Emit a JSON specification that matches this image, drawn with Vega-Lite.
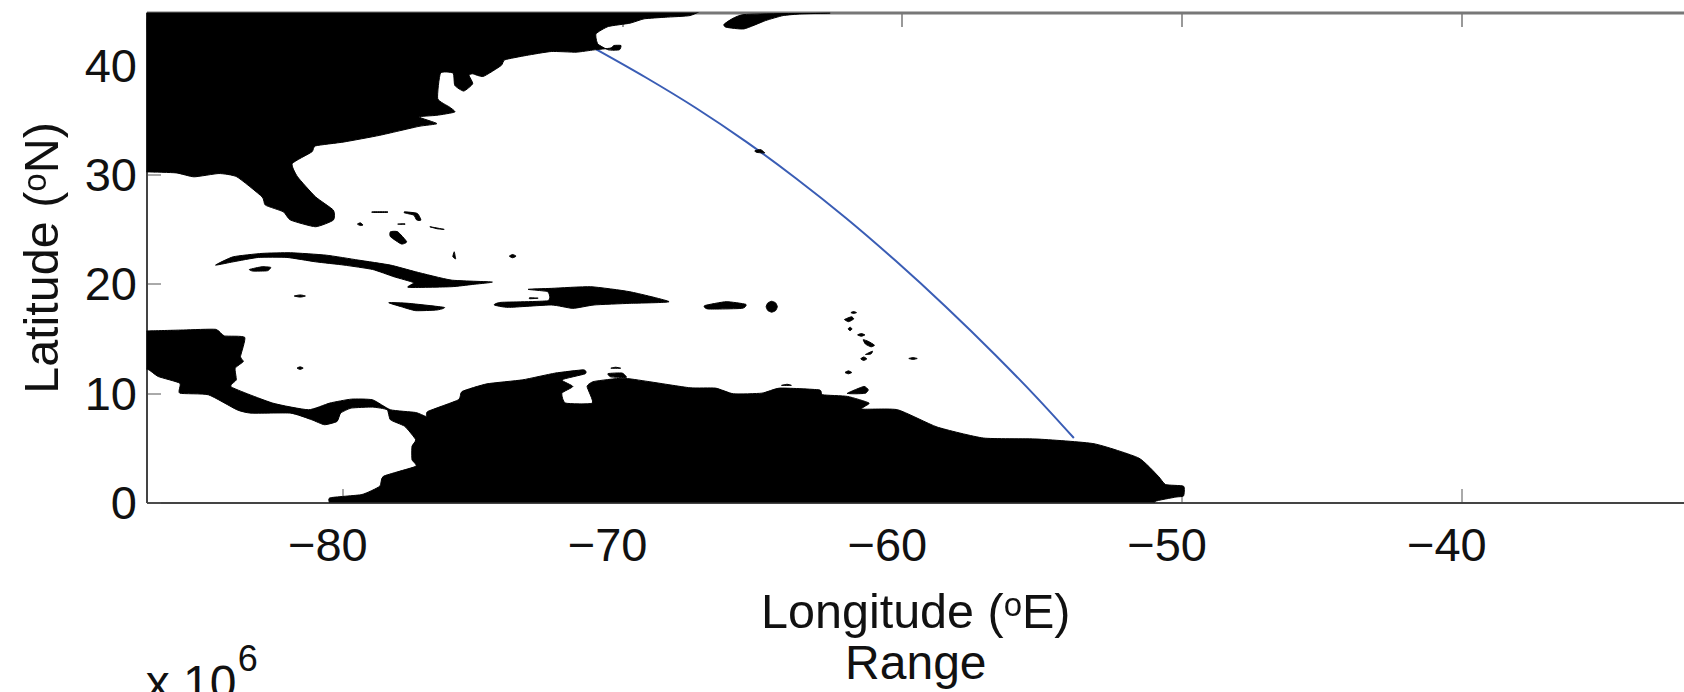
{"$schema":"https://vega.github.io/schema/vega-lite/v6.json","autosize":{"type":"none"},"padding":{"left":146.5,"top":12.5,"right":0,"bottom":189.5},"width":1537.5,"height":490,"background":"white","view":{"stroke":null},"config":{"font":"Liberation Sans","axis":{"grid":false,"labelFont":"Liberation Sans","titleFont":"Liberation Sans","labelFontSize":47,"titleFontSize":48.5,"labelColor":"#111","titleColor":"#111","titleFontWeight":"normal","tickSize":-14,"tickColor":"#555","domainColor":"#444","domainWidth":2}},"datasets":{"route":[{"lon":-70.94,"lat":41.5},{"lon":-69.15,"lat":38.9},{"lon":-67.36,"lat":36.11},{"lon":-65.57,"lat":33.03},{"lon":-63.79,"lat":29.68},{"lon":-62,"lat":26.04},{"lon":-60.22,"lat":22.12},{"lon":-58.43,"lat":17.92},{"lon":-56.64,"lat":13.46},{"lon":-55.2,"lat":9.67},{"lon":-53.85,"lat":5.9}],"notesCenter":[{"lon":-59.5,"lat":-16.2,"label":"Range","size":48}],"notesLeft":[{"lon":-87.03,"lat":-18,"label":"x 10","size":48},{"lon":-83.74,"lat":-15.4,"label":"6","size":36}],"land":[
{"shape":"na","lon":-87,"lat":44.0},{"shape":"na","lon":-87,"lat":45.5},{"shape":"na","lon":-86,"lat":45.5},{"shape":"na","lon":-68.2,"lat":45.5},{"shape":"na","lon":-67.1,"lat":45.2},{"shape":"na","lon":-67.57,"lat":44.57},{"shape":"na","lon":-68.44,"lat":44.42},{"shape":"na","lon":-69.21,"lat":44.27},{"shape":"na","lon":-69.72,"lat":43.87},{"shape":"na","lon":-70.49,"lat":43.57},{"shape":"na","lon":-70.93,"lat":42.9},{"shape":"na","lon":-70.87,"lat":41.98},{"shape":"na","lon":-70.49,"lat":41.43},{"shape":"na","lon":-70.1,"lat":41.43},{"shape":"na","lon":-70.04,"lat":41.83},{"shape":"na","lon":-70.29,"lat":41.83},{"shape":"na","lon":-70.42,"lat":41.59},{"shape":"na","lon":-71,"lat":41.43},{"shape":"na","lon":-71.64,"lat":41.22},{"shape":"na","lon":-72.53,"lat":41.28},{"shape":"na","lon":-73.42,"lat":40.92},{"shape":"na","lon":-74.19,"lat":40.52},{"shape":"na","lon":-74.32,"lat":40},{"shape":"na","lon":-74.96,"lat":39},{"shape":"na","lon":-75.34,"lat":39.24},{"shape":"na","lon":-75.47,"lat":39.09},{"shape":"na","lon":-75.34,"lat":38.33},{"shape":"na","lon":-75.66,"lat":37.66},{"shape":"na","lon":-75.98,"lat":38.18},{"shape":"na","lon":-76.04,"lat":39.3},{"shape":"na","lon":-76.49,"lat":39.3},{"shape":"na","lon":-76.59,"lat":36.96},{"shape":"na","lon":-76.17,"lat":36.2},{"shape":"na","lon":-75.98,"lat":35.74},{"shape":"na","lon":-76.62,"lat":35.44},{"shape":"na","lon":-77.26,"lat":35.29},{"shape":"na","lon":-76.62,"lat":34.68},{"shape":"na","lon":-77.26,"lat":34.43},{"shape":"na","lon":-78.66,"lat":33.61},{"shape":"na","lon":-79.94,"lat":33},{"shape":"na","lon":-80.96,"lat":32.64},{"shape":"na","lon":-81.09,"lat":32.09},{"shape":"na","lon":-81.79,"lat":31.02},{"shape":"na","lon":-81.6,"lat":29.81},{"shape":"na","lon":-80.96,"lat":27.98},{"shape":"na","lon":-80.32,"lat":26.76},{"shape":"na","lon":-80.32,"lat":25.85},{"shape":"na","lon":-80.96,"lat":25.24},{"shape":"na","lon":-81.85,"lat":25.85},{"shape":"na","lon":-82.11,"lat":26.61},{"shape":"na","lon":-82.75,"lat":27.22},{"shape":"na","lon":-82.87,"lat":27.98},{"shape":"na","lon":-83.77,"lat":29.81},{"shape":"na","lon":-84.41,"lat":30.11},{"shape":"na","lon":-85.3,"lat":29.81},{"shape":"na","lon":-85.94,"lat":30.17},{"shape":"na","lon":-86.96,"lat":30.26},{"shape":"na","lon":-87.5,"lat":30.26},{"shape":"na","lon":-87.5,"lat":31},
{"shape":"ns","lon":-66.34,"lat":43.81},{"shape":"ns","lon":-65.64,"lat":44.66},{"shape":"ns","lon":-62.58,"lat":44.8},{"shape":"ns","lon":-63.6,"lat":44.72},{"shape":"ns","lon":-64.24,"lat":44.57},{"shape":"ns","lon":-64.87,"lat":44.11},{"shape":"ns","lon":-65.64,"lat":43.35},{"shape":"ns","lon":-66.28,"lat":43.5},
{"shape":"b1","lon":-78.92,"lat":26.61},{"shape":"b1","lon":-78.4,"lat":26.61},{"shape":"b1","lon":-78.4,"lat":26.55},{"shape":"b1","lon":-78.92,"lat":26.55},
{"shape":"b2","lon":-77.77,"lat":26.61},{"shape":"b2","lon":-77.32,"lat":26.46},{"shape":"b2","lon":-77.19,"lat":25.85},{"shape":"b2","lon":-77.34,"lat":25.85},{"shape":"b2","lon":-77.45,"lat":26.31},{"shape":"b2","lon":-77.77,"lat":26.5},
{"shape":"b3","lon":-79.46,"lat":25.48},{"shape":"b3","lon":-79.36,"lat":25.6},{"shape":"b3","lon":-79.26,"lat":25.4},{"shape":"b3","lon":-79.36,"lat":25.35},
{"shape":"b4","lon":-78.02,"lat":25.48},{"shape":"b4","lon":-77.77,"lat":25.52},{"shape":"b4","lon":-77.77,"lat":25.45},
{"shape":"b5","lon":-76.87,"lat":25.24},{"shape":"b5","lon":-76.36,"lat":25},{"shape":"b5","lon":-76.6,"lat":25.05},
{"shape":"andros","lon":-78.28,"lat":24.78},{"shape":"andros","lon":-78.02,"lat":24.78},{"shape":"andros","lon":-77.7,"lat":23.87},{"shape":"andros","lon":-77.89,"lat":23.66},{"shape":"andros","lon":-78.28,"lat":24.33},
{"shape":"b7","lon":-76,"lat":22.95},{"shape":"b7","lon":-76.05,"lat":22.5},{"shape":"b7","lon":-75.95,"lat":22.3},{"shape":"b7","lon":-75.97,"lat":22.6},
{"shape":"b8","lon":-74.03,"lat":22.55},{"shape":"b8","lon":-73.91,"lat":22.7},{"shape":"b8","lon":-73.79,"lat":22.55},{"shape":"b8","lon":-73.91,"lat":22.4},
{"shape":"cuba","lon":-84.53,"lat":21.73},{"shape":"cuba","lon":-83.9,"lat":22.49},{"shape":"cuba","lon":-82.87,"lat":22.8},{"shape":"cuba","lon":-81.85,"lat":22.86},{"shape":"cuba","lon":-80.58,"lat":22.64},{"shape":"cuba","lon":-79.43,"lat":22.19},{"shape":"cuba","lon":-78.28,"lat":21.73},{"shape":"cuba","lon":-77.38,"lat":21.12},{"shape":"cuba","lon":-76.11,"lat":20.36},{"shape":"cuba","lon":-74.64,"lat":20.18},{"shape":"cuba","lon":-75.34,"lat":19.96},{"shape":"cuba","lon":-76.11,"lat":19.75},{"shape":"cuba","lon":-77.64,"lat":19.69},{"shape":"cuba","lon":-77.45,"lat":20.12},{"shape":"cuba","lon":-78.15,"lat":20.66},{"shape":"cuba","lon":-78.92,"lat":21.33},{"shape":"cuba","lon":-79.94,"lat":21.73},{"shape":"cuba","lon":-80.96,"lat":22.03},{"shape":"cuba","lon":-81.98,"lat":22.43},{"shape":"cuba","lon":-83,"lat":22.43},{"shape":"cuba","lon":-83.9,"lat":22.03},
{"shape":"youth","lon":-83.32,"lat":21.33},{"shape":"youth","lon":-82.87,"lat":21.58},{"shape":"youth","lon":-82.56,"lat":21.52},{"shape":"youth","lon":-82.68,"lat":21.21},{"shape":"youth","lon":-83.19,"lat":21.18},
{"shape":"cayman","lon":-81.72,"lat":18.9},{"shape":"cayman","lon":-81.5,"lat":19},{"shape":"cayman","lon":-81.32,"lat":18.9},{"shape":"cayman","lon":-81.5,"lat":18.8},
{"shape":"jamaica","lon":-78.34,"lat":18.29},{"shape":"jamaica","lon":-77.64,"lat":18.23},{"shape":"jamaica","lon":-76.36,"lat":17.86},{"shape":"jamaica","lon":-76.62,"lat":17.62},{"shape":"jamaica","lon":-77.38,"lat":17.56},{"shape":"jamaica","lon":-77.89,"lat":17.92},
{"shape":"hisp","lon":-74.57,"lat":18.08},{"shape":"hisp","lon":-74.32,"lat":18.32},{"shape":"hisp","lon":-72.66,"lat":18.47},{"shape":"hisp","lon":-72.66,"lat":19.29},{"shape":"hisp","lon":-73.36,"lat":19.51},{"shape":"hisp","lon":-72.53,"lat":19.6},{"shape":"hisp","lon":-71.12,"lat":19.75},{"shape":"hisp","lon":-69.72,"lat":19.29},{"shape":"hisp","lon":-68.32,"lat":18.38},{"shape":"hisp","lon":-69.72,"lat":18.23},{"shape":"hisp","lon":-71,"lat":18.08},{"shape":"hisp","lon":-71.76,"lat":17.77},{"shape":"hisp","lon":-72.53,"lat":18.08},{"shape":"hisp","lon":-74.06,"lat":17.86},
{"shape":"tortue","lon":-73.3,"lat":18.75},{"shape":"tortue","lon":-73,"lat":18.7},{"shape":"tortue","lon":-73.3,"lat":18.65},
{"shape":"pr","lon":-67.05,"lat":18.02},{"shape":"pr","lon":-66.28,"lat":18.38},{"shape":"pr","lon":-65.58,"lat":18.14},{"shape":"pr","lon":-65.71,"lat":17.77},{"shape":"pr","lon":-66.92,"lat":17.71},
{"shape":"vi","lon":-64.85,"lat":17.92},{"shape":"vi","lon":-64.79,"lat":18.27},{"shape":"vi","lon":-64.65,"lat":18.42},{"shape":"vi","lon":-64.51,"lat":18.27},{"shape":"vi","lon":-64.45,"lat":17.92},{"shape":"vi","lon":-64.51,"lat":17.57},{"shape":"vi","lon":-64.65,"lat":17.42},{"shape":"vi","lon":-64.79,"lat":17.57},
{"shape":"la1","lon":-61.82,"lat":17.38},{"shape":"la1","lon":-61.72,"lat":17.48},{"shape":"la1","lon":-61.62,"lat":17.38},{"shape":"la1","lon":-61.72,"lat":17.3},
{"shape":"la2","lon":-62.05,"lat":16.75},{"shape":"la2","lon":-61.8,"lat":17},{"shape":"la2","lon":-61.72,"lat":16.8},{"shape":"la2","lon":-61.9,"lat":16.55},
{"shape":"la3","lon":-61.92,"lat":15.89},{"shape":"la3","lon":-61.85,"lat":16.05},{"shape":"la3","lon":-61.78,"lat":15.89},{"shape":"la3","lon":-61.85,"lat":15.72},
{"shape":"la4","lon":-61.58,"lat":15.34},{"shape":"la4","lon":-61.45,"lat":15.46},{"shape":"la4","lon":-61.32,"lat":15.34},{"shape":"la4","lon":-61.45,"lat":15.22},
{"shape":"la5","lon":-61.38,"lat":14.9},{"shape":"la5","lon":-61.2,"lat":14.75},{"shape":"la5","lon":-60.98,"lat":14.4},{"shape":"la5","lon":-61.1,"lat":14.25},{"shape":"la5","lon":-61.3,"lat":14.5},
{"shape":"la6","lon":-61.3,"lat":13.55},{"shape":"la6","lon":-61.05,"lat":13.85},{"shape":"la6","lon":-61.1,"lat":13.6},
{"shape":"la7","lon":-61.47,"lat":13.15},{"shape":"la7","lon":-61.36,"lat":13.32},{"shape":"la7","lon":-61.25,"lat":13.15},{"shape":"la7","lon":-61.36,"lat":13},
{"shape":"la8","lon":-59.75,"lat":13.18},{"shape":"la8","lon":-59.6,"lat":13.26},{"shape":"la8","lon":-59.45,"lat":13.18},{"shape":"la8","lon":-59.6,"lat":13.1},
{"shape":"la9","lon":-62.03,"lat":11.9},{"shape":"la9","lon":-61.91,"lat":12.05},{"shape":"la9","lon":-61.79,"lat":11.9},{"shape":"la9","lon":-61.91,"lat":11.78},
{"shape":"trinidad","lon":-61.94,"lat":10.01},{"shape":"trinidad","lon":-61.36,"lat":10.62},{"shape":"trinidad","lon":-61.2,"lat":10.31},{"shape":"trinidad","lon":-61.3,"lat":10},{"shape":"trinidad","lon":-61.68,"lat":9.95},
{"shape":"margarita","lon":-64.3,"lat":10.72},{"shape":"margarita","lon":-64.1,"lat":10.82},{"shape":"margarita","lon":-63.95,"lat":10.72},
{"shape":"bermuda","lon":-65.25,"lat":32.2},{"shape":"bermuda","lon":-65.05,"lat":32.3},{"shape":"bermuda","lon":-64.9,"lat":32},{"shape":"bermuda","lon":-65.2,"lat":32.05},
{"shape":"prov","lon":-81.62,"lat":12.3},{"shape":"prov","lon":-81.51,"lat":12.42},{"shape":"prov","lon":-81.4,"lat":12.3},{"shape":"prov","lon":-81.51,"lat":12.18},
{"shape":"aruba","lon":-70.4,"lat":12.29},{"shape":"aruba","lon":-70.23,"lat":12.38},{"shape":"aruba","lon":-70.05,"lat":12.29},
{"shape":"parag","lon":-70.5,"lat":11.8},{"shape":"parag","lon":-70,"lat":11.85},{"shape":"parag","lon":-69.85,"lat":11.45},{"shape":"parag","lon":-70.4,"lat":11.5},
{"shape":"sa","lon":-87.5,"lat":15.7},{"shape":"sa","lon":-87,"lat":15.7},{"shape":"sa","lon":-85.68,"lat":15.79},{"shape":"sa","lon":-84.53,"lat":15.85},{"shape":"sa","lon":-84.22,"lat":15.25},{"shape":"sa","lon":-83.49,"lat":15.12},{"shape":"sa","lon":-83.64,"lat":13.36},{"shape":"sa","lon":-83.54,"lat":12.9},{"shape":"sa","lon":-83.83,"lat":12.29},{"shape":"sa","lon":-83.79,"lat":11.23},{"shape":"sa","lon":-83.96,"lat":10.56},{"shape":"sa","lon":-82.49,"lat":9.1},{"shape":"sa","lon":-81.21,"lat":8.49},{"shape":"sa","lon":-80.45,"lat":9.1},{"shape":"sa","lon":-79.68,"lat":9.46},{"shape":"sa","lon":-78.92,"lat":9.4},{"shape":"sa","lon":-78.28,"lat":8.49},{"shape":"sa","lon":-77.38,"lat":8.24},{"shape":"sa","lon":-77,"lat":7.88},{"shape":"sa","lon":-76.94,"lat":8.34},{"shape":"sa","lon":-75.85,"lat":9.4},{"shape":"sa","lon":-75.72,"lat":10.16},{"shape":"sa","lon":-74.83,"lat":10.86},{"shape":"sa","lon":-73.55,"lat":11.23},{"shape":"sa","lon":-72.4,"lat":11.84},{"shape":"sa","lon":-71.38,"lat":12.14},{"shape":"sa","lon":-71.32,"lat":11.78},{"shape":"sa","lon":-72.15,"lat":11.23},{"shape":"sa","lon":-71.76,"lat":10.62},{"shape":"sa","lon":-72.15,"lat":10.01},{"shape":"sa","lon":-72.02,"lat":9.1},{"shape":"sa","lon":-71.06,"lat":9.1},{"shape":"sa","lon":-71.25,"lat":10.62},{"shape":"sa","lon":-71,"lat":11.08},{"shape":"sa","lon":-69.98,"lat":11.38},{"shape":"sa","lon":-69.08,"lat":11.08},{"shape":"sa","lon":-67.57,"lat":10.5},{"shape":"sa","lon":-66.66,"lat":10.47},{"shape":"sa","lon":-66.02,"lat":9.95},{"shape":"sa","lon":-65,"lat":10.01},{"shape":"sa","lon":-64.36,"lat":10.47},{"shape":"sa","lon":-62.96,"lat":10.31},{"shape":"sa","lon":-62.83,"lat":9.86},{"shape":"sa","lon":-61.94,"lat":9.71},{"shape":"sa","lon":-61.17,"lat":9.1},{"shape":"sa","lon":-61.43,"lat":8.55},{"shape":"sa","lon":-60.15,"lat":8.49},{"shape":"sa","lon":-58.74,"lat":6.91},{"shape":"sa","lon":-57.08,"lat":5.9},{"shape":"sa","lon":-55.17,"lat":5.81},{"shape":"sa","lon":-53.13,"lat":5.38},{"shape":"sa","lon":-51.53,"lat":4.07},{"shape":"sa","lon":-50.83,"lat":2.4},{"shape":"sa","lon":-50.57,"lat":1.64},{"shape":"sa","lon":-49.93,"lat":1.49},{"shape":"sa","lon":-49.93,"lat":0.6},{"shape":"sa","lon":-50.2,"lat":0.5},{"shape":"sa","lon":-50.95,"lat":0.1},{"shape":"sa","lon":-50.95,"lat":-0.5},{"shape":"sa","lon":-51.5,"lat":-0.5},{"shape":"sa","lon":-79.8,"lat":-0.5},{"shape":"sa","lon":-80.38,"lat":-0.3},{"shape":"sa","lon":-80.45,"lat":0.42},{"shape":"sa","lon":-79.3,"lat":0.73},{"shape":"sa","lon":-78.66,"lat":1.49},{"shape":"sa","lon":-78.53,"lat":2.4},{"shape":"sa","lon":-77.38,"lat":3.31},{"shape":"sa","lon":-77.51,"lat":3.92},{"shape":"sa","lon":-77.51,"lat":5.14},{"shape":"sa","lon":-77.38,"lat":5.75},{"shape":"sa","lon":-77.77,"lat":6.97},{"shape":"sa","lon":-78.28,"lat":7.57},{"shape":"sa","lon":-78.4,"lat":8.49},{"shape":"sa","lon":-78.92,"lat":8.73},{"shape":"sa","lon":-79.68,"lat":8.64},{"shape":"sa","lon":-80.06,"lat":8.18},{"shape":"sa","lon":-80.19,"lat":7.42},{"shape":"sa","lon":-80.64,"lat":7.12},{"shape":"sa","lon":-81.09,"lat":7.57},{"shape":"sa","lon":-81.85,"lat":8.18},{"shape":"sa","lon":-83.26,"lat":8.18},{"shape":"sa","lon":-83.77,"lat":8.49},{"shape":"sa","lon":-84.79,"lat":9.86},{"shape":"sa","lon":-85.81,"lat":10.01},{"shape":"sa","lon":-85.81,"lat":10.92},{"shape":"sa","lon":-86.58,"lat":11.53},{"shape":"sa","lon":-86.96,"lat":12.2},{"shape":"sa","lon":-87.5,"lat":12.2}
]},
"resolve":{"axis":{"x":"independent"}},
"layer":[
{"data":{"name":"route"},"mark":{"type":"line","color":"#3a5db5","strokeWidth":2,"interpolate":"monotone"},"encoding":{"x":{"field":"lon","type":"quantitative","scale":{"domain":[-87,-32.04],"nice":false,"zero":false},"axis":{"orient":"bottom","values":[-80,-70,-60,-50,-40],"title":"Longitude (ᵒE)","labelPadding":35,"labelOffset":-15,"titlePadding":20}},"y":{"field":"lat","type":"quantitative","scale":{"domain":[0,44.85],"nice":false,"zero":false},"axis":{"orient":"left","values":[0,10,20,30,40],"title":"Latitude (ᵒN)","labelPadding":24,"labelOffset":2,"titlePadding":17}},"order":{"value":null}}},
{"data":{"name":"land"},"mark":{"type":"line","fill":"#000","stroke":"#000","strokeWidth":1,"interpolate":"cardinal-closed","tension":0.5,"clip":true},"encoding":{"x":{"field":"lon","type":"quantitative","scale":{"domain":[-87,-32.04],"nice":false,"zero":false},"axis":{"orient":"top","values":[-80,-70,-60,-50,-40],"labels":false,"title":null,"tickColor":"#777","tickWidth":1.5,"domainColor":"#777","domainWidth":3}},"y":{"field":"lat","type":"quantitative"},"detail":{"field":"shape"},"order":{"value":null}}},
{"data":{"name":"notesCenter"},"mark":{"type":"text","font":"Liberation Sans","color":"#111","baseline":"alphabetic","align":"center"},"encoding":{"x":{"field":"lon","type":"quantitative","scale":{"domain":[-87,-32.04],"nice":false,"zero":false},"axis":null},"y":{"field":"lat","type":"quantitative"},"text":{"field":"label"},"size":{"field":"size","type":"quantitative","scale":null}}},
{"data":{"name":"notesLeft"},"mark":{"type":"text","font":"Liberation Sans","color":"#111","baseline":"alphabetic","align":"left"},"encoding":{"x":{"field":"lon","type":"quantitative","scale":{"domain":[-87,-32.04],"nice":false,"zero":false},"axis":null},"y":{"field":"lat","type":"quantitative"},"text":{"field":"label"},"size":{"field":"size","type":"quantitative","scale":null}}}
]}
